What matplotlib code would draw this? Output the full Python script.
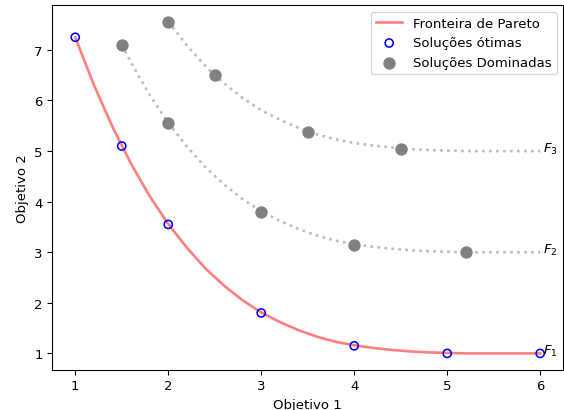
"""Pareto front with optimal and dominated solutions."""

import matplotlib
matplotlib.use("Agg")
import matplotlib.pyplot as plt

# curve values (step 0.2)
front_x = [1.0, 1.2, 1.4, 1.6, 1.8, 2.0, 2.2, 2.4, 2.6, 2.8, 3.0, 3.2, 3.4,
           3.6, 3.8, 4.0, 4.2, 4.4, 4.6, 4.8, 5.0, 5.2, 5.4, 5.6, 5.8, 6.0]
front_y = [7.25, 6.31, 5.48, 4.75, 4.11, 3.56, 3.09, 2.68, 2.34, 2.05, 1.81,
           1.62, 1.46, 1.33, 1.23, 1.16, 1.11, 1.07, 1.04, 1.02, 1.01, 1.0,
           1.0, 1.0, 1.0, 1.0]

f2_x = [1.5, 1.6, 1.8, 2.0, 2.2, 2.4, 2.6, 2.8, 3.0, 3.2, 3.4, 3.6, 3.8,
        4.0, 4.2, 4.4, 4.6, 4.8, 5.0, 5.2, 5.4, 5.6, 5.8, 6.0]
f2_y = [7.10, 6.75, 6.11, 5.56, 5.09, 4.68, 4.34, 4.05, 3.81, 3.62, 3.46,
        3.33, 3.23, 3.16, 3.11, 3.07, 3.04, 3.02, 3.01, 3.0, 3.0, 3.0, 3.0, 3.0]

f3_x = [2.0, 2.2, 2.4, 2.5, 2.6, 2.8, 3.0, 3.2, 3.4, 3.6, 3.8, 4.0, 4.2,
        4.4, 4.6, 4.8, 5.0, 5.2, 5.4, 5.6, 5.8, 6.0]
f3_y = [7.56, 7.09, 6.68, 6.50, 6.34, 6.05, 5.81, 5.62, 5.46, 5.33, 5.23,
        5.16, 5.11, 5.07, 5.04, 5.02, 5.01, 5.0, 5.0, 5.0, 5.0, 5.0]

opt_x = [1, 1.5, 2, 3, 4, 5, 6]
opt_y = [7.25, 5.1, 3.55, 1.8, 1.15, 1.0, 1.0]

dom_x = [1.5, 2, 3, 4, 5.2, 2, 2.5, 3.5, 4.5]
dom_y = [7.1, 5.55, 3.8, 3.15, 3.0, 7.55, 6.5, 5.38, 5.05]

front_labels = ["$F_1$", "$F_2$", "$F_3$"]
front_levels = [1.0, 3.0, 5.0]

DPI = 95
fig = plt.figure(figsize=(564 / DPI, 411 / DPI), dpi=DPI)
ax = fig.add_axes([52 / 564, 40 / 411, 1 - 52 / 564 - 0.001, 365 / 411])

ax.plot(f2_x, f2_y, ":", color="#bbbbbb", lw=2)
ax.plot(f3_x, f3_y, ":", color="#bbbbbb", lw=2)
ax.plot(front_x, front_y, color="#ff7f7f", lw=2, label="Fronteira de Pareto")
ax.scatter(opt_x, opt_y, s=38, facecolors="none", edgecolors="blue", lw=1.2,
           zorder=3, label="Soluções ótimas")
ax.scatter(dom_x, dom_y, s=70, color="gray", zorder=3, label="Soluções Dominadas")

for lab, lev in zip(front_labels, front_levels):
    ax.text(6.03, lev + 0.05, lab, ha="left", va="center", fontsize=10)

ax.set_xlabel("Objetivo 1")
ax.set_ylabel("Objetivo 2")
ax.legend(loc="upper right")

fig.savefig("out.png", dpi=DPI)
